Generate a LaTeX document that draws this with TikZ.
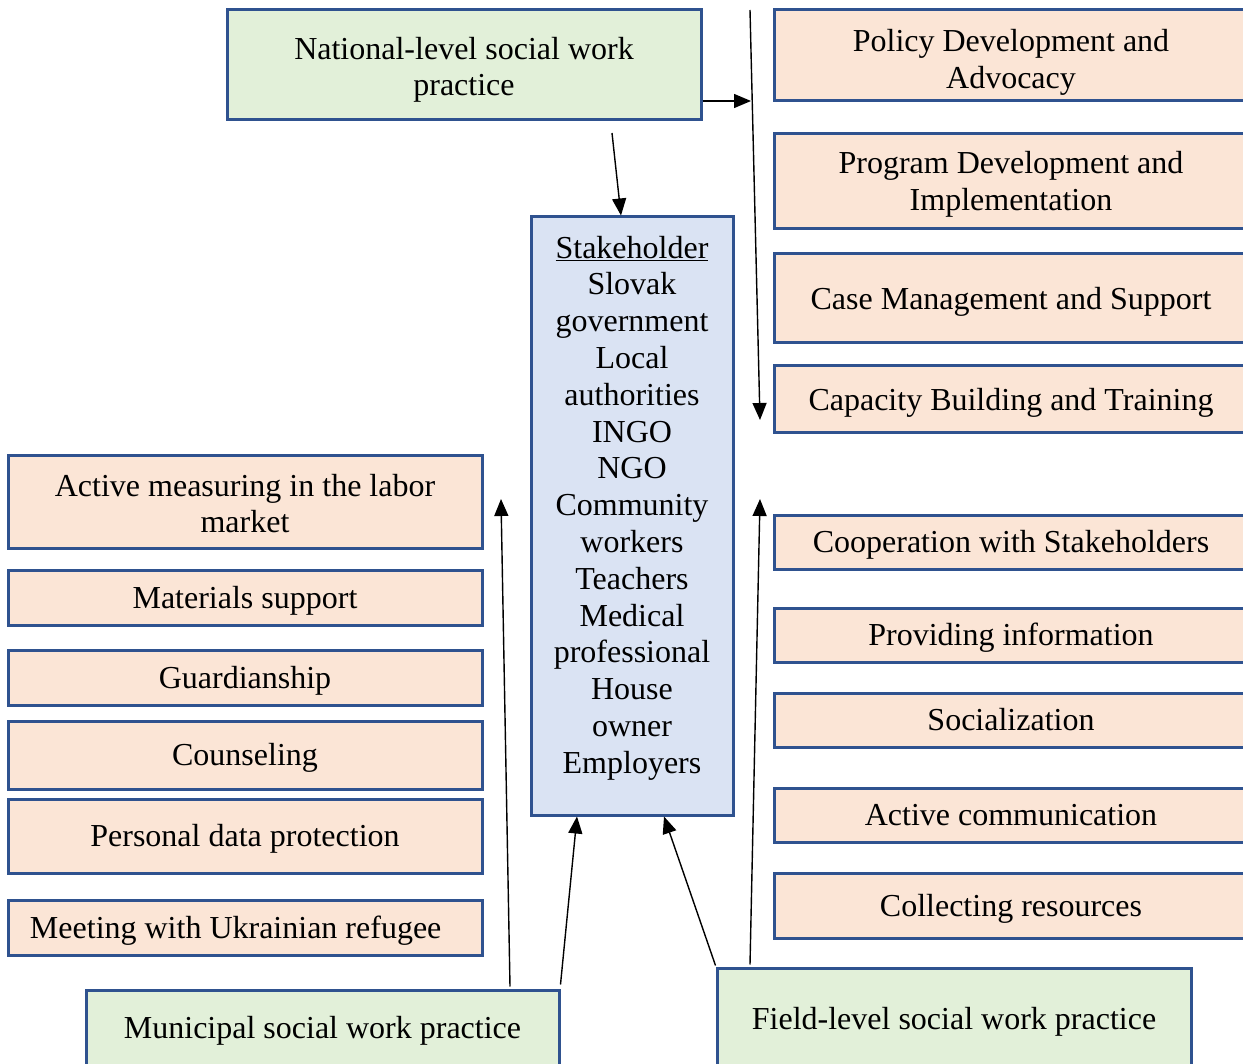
\documentclass[tikz,border=0pt]{standalone}
\usepackage{fontspec}
\setmainfont{Liberation Serif}
\usetikzlibrary{arrows.meta,calc}
\definecolor{bord}{HTML}{2F528F}
\definecolor{peach}{HTML}{FBE5D6}
\definecolor{mint}{HTML}{E2F0D9}
\definecolor{sky}{HTML}{DAE3F3}
\newcommand\wstrut{\rule[-7pt]{0pt}{35.5pt}}
\newcommand\tstrut[1]{\rule[-7pt]{0pt}{#1}}
\begin{document}
\begin{tikzpicture}[x=1pt,y=-1pt,
  box/.style={draw=bord,line width=3pt,inner sep=0pt,align=center,text=black,
    font=\fontsize{32}{36.8}\selectfont,
    execute at begin node=\wstrut, execute at end node=\wstrut},
  act/.style={box,fill=peach,minimum width=474pt},
  lvl/.style={box,fill=mint,minimum width=474pt},
  stk/.style={box,fill=sky},
  txt/.style={inner sep=0pt,align=center,text=black,font=\fontsize{32}{36.8}\selectfont,
    execute at begin node=\wstrut, execute at end node=\wstrut},
  arr/.style={line width=1.4pt,-{Triangle[length=17pt,width=14pt]}}]
\useasboundingbox (0,0) rectangle (1243,1064);
\clip (0,0) rectangle (1243,1064);
\fill[white] (0,0) rectangle (1243,1064);

% right column
\node[act,minimum height=91pt] (pol) at (1011,55.5) {\tstrut{43pt}Policy Development and\\Advocacy\wstrut};
\node[act,minimum height=95pt] (prog) at (1011,181.5) {\tstrut{35pt}Program Development and\\Implementation\wstrut};
\node[act,minimum height=89pt] (case) at (1011,298.5) {Case Management and Support};
\node[act,minimum height=67pt] (cap) at (1011,399.5) {Capacity Building and Training};
\node[act,minimum height=54pt] (coop) at (1011,542) {Cooperation with Stakeholders};
\node[act,minimum height=54pt] (info) at (1011,635) {Providing information};
\node[act,minimum height=54pt] (soc) at (1011,720) {Socialization};
\node[act,minimum height=54pt] (comm) at (1011,815) {Active communication};
\node[act,minimum height=65pt] (coll) at (1011,905.5) {Collecting resources};

% left column
\node[act,minimum height=92pt] (meas) at (245,502) {\tstrut{39pt}Active measuring in the labor\\market\wstrut};
\node[act,minimum height=55pt] (mat) at (245,597.5) {Materials support};
\node[act,minimum height=55pt] (guard) at (245,677.5) {Guardianship};
\node[act,minimum height=68pt] (couns) at (245,755) {Counseling};
\node[act,minimum height=74pt] (pdp) at (245,836) {Personal data protection};
\node[act,minimum height=55pt] (meet) at (245,927.5) {\makebox[474pt][l]{\hspace*{22pt}Meeting with Ukrainian refugee}};

% levels
\node[lvl,minimum height=110pt] (nat) at (464,65) {\tstrut{39pt}National-level social work\\practice\wstrut};
\node[lvl,minimum width=473pt,minimum height=76pt] (muni) at (322.5,1028) {Municipal social work practice};
\node[lvl,minimum height=102pt] (field) at (954,1019) {Field-level social work practice};

% stakeholders
\node[stk,minimum width=202pt,minimum height=598pt,execute at begin node={},execute at end node={}] (stake) at (632,516) {};
\node[txt] (stxt) at (632,508) {\underline{Stakeholder}\\Slovak\\government\\Local\\authorities\\INGO\\NGO\\Community\\workers\\Teachers\\Medical\\professional\\House\\owner\\Employers};

% connectors
\coordinate (vtop) at (750,10);
\coordinate (vbot) at (760,420);
\coordinate (njoin) at (751,101);
\coordinate (ndown) at (612,133);
\coordinate (mup) at (501,499);
\coordinate (fup) at (760,499);

\draw[arr] (vtop) -- (vbot);
\draw[arr] (nat.east |- njoin) -- (njoin);
\draw[arr] (ndown) -- ($(stake.north)+(-11,0)$);
\draw[arr] ($(muni.north)+(187.5,-2)$) -- (mup);
\draw[arr] ($(muni.north east)+(0,-4)$) -- ($(stake.south)+(-55,0)$);
\draw[arr] ($(field.north west)+(0,-1)$) -- ($(stake.south)+(32,0)$);
\draw[arr] ($(field.north)+(-204,-2)$) -- (fup);
\end{tikzpicture}
\end{document}
